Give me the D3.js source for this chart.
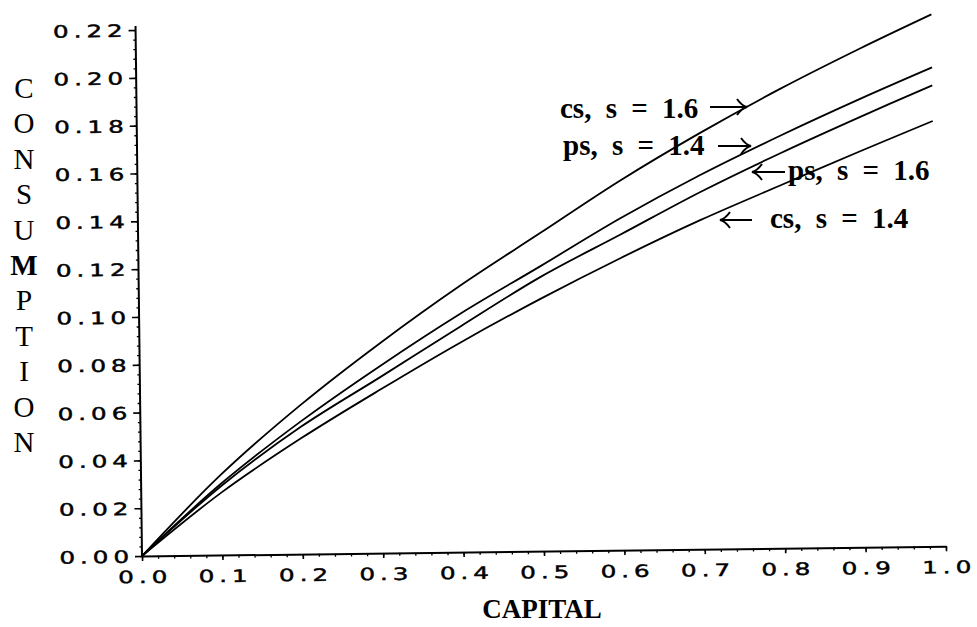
<!DOCTYPE html>
<html>
<head>
<meta charset="utf-8">
<script src="https://cdn.jsdelivr.net/npm/d3@7"></script>
<style>
  html, body { margin: 0; padding: 0; background: #fff; }
  svg { display: block; }
</style>
</head>
<body>
<div id="chart"></div>
<script>
// Consumption as a function of capital for four policy/saving cases
const capital = [0, 0.1, 0.2, 0.3, 0.4, 0.5, 0.6, 0.7, 0.8, 0.9, 0.99];
const csS16 = [0, 0.0338, 0.0625, 0.088, 0.1115, 0.133, 0.1545, 0.174, 0.192, 0.2085, 0.2225];
const psS14 = [0, 0.0300, 0.0556, 0.0785, 0.0998, 0.1192, 0.1388, 0.1565, 0.1725, 0.1875, 0.2003];
const psS16 = [0, 0.0290, 0.0533, 0.0738, 0.0945, 0.1147, 0.132, 0.1494, 0.1652, 0.1800, 0.1928];
const csS14 = [0, 0.0262, 0.0485, 0.0686, 0.0878, 0.1056, 0.1222, 0.1377, 0.1518, 0.1657, 0.1779];

const seriesNames = ["cs, s = 1.6", "ps, s = 1.4", "ps, s = 1.6", "cs, s = 1.4"];
const seriesValues = [csS16, psS14, psS16, csS14];

const xTicks = [0, 0.1, 0.2, 0.3, 0.4, 0.5, 0.6, 0.7, 0.8, 0.9, 1.0];
const yTicks = [0, 0.02, 0.04, 0.06, 0.08, 0.10, 0.12, 0.14, 0.16, 0.18, 0.20, 0.22];
const yTitle = "CONSUMPTION";
const xTitle = "CAPITAL";

const W = 977, H = 627;
const origin = { x: 142, y: 556 };
const plotW = 804, plotH = 526;

const svg = d3.select("#chart").append("svg")
  .attr("width", W).attr("height", H)
  .style("background", "#fff");

// plotting frame, tilted slightly as on the printed page
const g = svg.append("g")
  .attr("transform", `translate(${origin.x},${origin.y}) rotate(-0.7)`);

const x = d3.scaleLinear().domain([0, 1]).range([0, plotW]);
const y = d3.scaleLinear().domain([0, 0.22]).range([0, -plotH]);

// wide plotter-style tick numerals
const tickFont = "'DejaVu Sans', sans-serif";
const stretch = 1.45;
const spacing = 3.4;

function styleTickText(sel) {
  sel.attr("transform", `scale(${stretch},1)`)
    .style("letter-spacing", spacing + "px")
    .style("font-family", tickFont).style("font-size", "17px")
    .attr("fill", "#000").attr("stroke", "#000").attr("stroke-width", 0.45);
}

// minor ticks
g.append("g")
  .call(d3.axisBottom(x).tickValues(d3.range(0, 1.0001, 0.02)).tickSize(3).tickFormat(""))
  .call(s => s.select(".domain").remove())
  .selectAll("line").attr("stroke", "#000").attr("stroke-width", 1.3);
g.append("g")
  .call(d3.axisLeft(y).tickValues(d3.range(0, 0.2201, 0.004)).tickSize(2.5).tickFormat(""))
  .call(s => s.select(".domain").remove())
  .selectAll("line").attr("stroke", "#000").attr("stroke-width", 1.3);

// major x axis
const xAxis = g.append("g")
  .call(d3.axisBottom(x).tickValues(xTicks).tickSize(5).tickSizeOuter(0).tickFormat(d3.format(".1f")));
xAxis.select(".domain").attr("stroke", "#000").attr("stroke-width", 2);
xAxis.selectAll(".tick line").attr("stroke", "#000").attr("stroke-width", 1.6);
xAxis.selectAll(".tick text")
  .attr("y", 27).attr("dy", null).attr("x", spacing / 2)
  .call(styleTickText);

// major y axis
const yAxis = g.append("g")
  .call(d3.axisLeft(y).tickValues(yTicks).tickSize(7).tickSizeOuter(0).tickFormat(d3.format(".2f")));
yAxis.select(".domain").remove();
yAxis.selectAll(".tick line").attr("stroke", "#000").attr("stroke-width", 1.6);
yAxis.selectAll(".tick text")
  .attr("x", -13 / stretch + spacing).attr("dy", "0.36em")
  .call(styleTickText);
g.append("line")
  .attr("x1", 0).attr("x2", 0)
  .attr("y1", 0).attr("y2", y(0.22) - 4)
  .attr("stroke", "#000").attr("stroke-width", 2);

// curves
const line = d3.line()
  .x((d, i) => x(capital[i]))
  .y(d => y(d))
  .curve(d3.curveCatmullRom.alpha(0.5));

g.selectAll("path.curve")
  .data(seriesValues)
  .join("path")
  .attr("class", "curve")
  .attr("d", d => line(d))
  .attr("fill", "none")
  .attr("stroke", "#000")
  .attr("stroke-width", 1.8);

// curve labels with arrows pointing at their curves
const labelFont = "'Liberation Serif', 'Times New Roman', serif";
const labels = [
  { text: seriesNames[0], x: 560, y: 118, arrow: "right", ax1: 710, ax2: 747, ay: 107 },
  { text: seriesNames[1], x: 563, y: 155, arrow: "right", ax1: 718, ax2: 751, ay: 146 },
  { text: seriesNames[2], x: 788, y: 180, arrow: "left",  ax1: 752, ax2: 785, ay: 172 },
  { text: seriesNames[3], x: 770, y: 228, arrow: "left",  ax1: 720, ax2: 752, ay: 220 }
];

const lab = svg.append("g");
labels.forEach(l => {
  lab.append("text")
    .attr("x", l.x).attr("y", l.y)
    .style("font-family", labelFont).style("font-size", "29px").style("font-weight", "bold")
    .style("word-spacing", "7px")
    .attr("fill", "#000")
    .text(l.text);
  const tip = l.arrow === "right" ? l.ax2 : l.ax1;
  const tail = l.arrow === "right" ? l.ax1 : l.ax2;
  const dir = l.arrow === "right" ? 1 : -1;
  lab.append("path")
    .attr("d", `M${tail},${l.ay}L${tip},${l.ay}` +
      `M${tip - dir * 10},${l.ay - 8}Q${tip - dir * 5},${l.ay - 1} ${tip},${l.ay}` +
      `Q${tip - dir * 5},${l.ay + 1} ${tip - dir * 10},${l.ay + 8}`)
    .attr("fill", "none").attr("stroke", "#000").attr("stroke-width", 2);
});

// vertical axis title, one letter per row
svg.append("g").selectAll("text")
  .data(yTitle.split(""))
  .join("text")
  .attr("x", 24)
  .attr("y", (d, i) => 98 + i * 35.4)
  .attr("text-anchor", "middle")
  .style("font-family", labelFont)
  .style("font-size", "29px")
  .style("font-weight", (d, i) => i === 5 ? "bold" : "normal")
  .attr("fill", "#000")
  .text(d => d);

// horizontal axis title
svg.append("text")
  .attr("x", 542).attr("y", 618)
  .attr("text-anchor", "middle")
  .style("font-family", labelFont)
  .style("font-size", "27px")
  .style("font-weight", "bold")
  .attr("fill", "#000")
  .text(xTitle);
</script>
</body>
</html>
